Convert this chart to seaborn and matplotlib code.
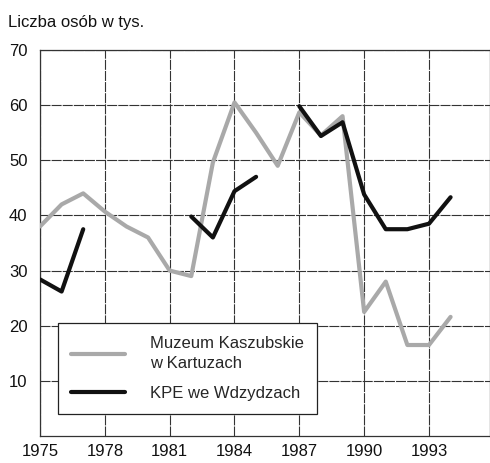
import numpy as np
import pandas as pd
import matplotlib
matplotlib.use("Agg")
import matplotlib.pyplot as plt
import seaborn as sns
from matplotlib.lines import Line2D

sns.set_style("white")
plt.rcParams['font.family'] = ['Liberation Sans', 'DejaVu Sans']

years = list(range(1975, 1995))
muzeum = [38, 42, 44, 40.7, 38, 36, 30, 29, 49.6, 60.5, 55, 49, 58.7, 54.5, 58, 22.5, 28, 16.5, 16.5, 21.6]
kpe = [28.4, 26.2, 37.5, np.nan, np.nan, np.nan, np.nan, 39.8, 36, 44.4, 47, np.nan,
       59.8, 54.4, 56.9, 43.8, 37.5, 37.5, 38.5, 43.3]
label_muzeum = "Muzeum Kaszubskie\nw Kartuzach"
label_kpe = "KPE we Wdzydzach"
title = "Liczba osób w tys."
xticks = [1975, 1978, 1981, 1984, 1987, 1990, 1993]
yticks = [10, 20, 30, 40, 50, 60, 70]

gray = "#a9a9a9"
black = "#111111"

W, H = 490, 463
fig = plt.figure(figsize=(W / 100, H / 100), dpi=100)
ax = fig.add_axes([40 / W, 27 / H, 450 / W, 386 / H])


def segments(xs, ys):
    seg, out = [], []
    for x, y in zip(xs, ys):
        if y is None or (isinstance(y, float) and np.isnan(y)):
            if seg:
                out.append(seg)
            seg = []
        else:
            seg.append((x, y))
    if seg:
        out.append(seg)
    return out


for seg in segments(years, muzeum):
    d = pd.DataFrame(seg, columns=["year", "value"])
    sns.lineplot(data=d, x="year", y="value", ax=ax, color=gray, lw=3, zorder=3)
for seg in segments(years, kpe):
    d = pd.DataFrame(seg, columns=["year", "value"])
    sns.lineplot(data=d, x="year", y="value", ax=ax, color=black, lw=3, zorder=4)

ax.set_xlim(1975, 1975 + 450 / 21.61)
ax.set_ylim(0, 70)
ax.set_xticks(xticks)
ax.set_yticks(yticks)
ax.set_xticklabels([str(t) for t in xticks], fontsize=12)
ax.set_yticklabels([str(t) for t in yticks], fontsize=12)
ax.tick_params(axis="both", length=0, colors="#111111")
ax.tick_params(axis="x", pad=6)
ax.tick_params(axis="y", pad=9)
ax.set_xlabel("")
ax.set_ylabel("")
ax.grid(True, color="#333333", lw=0.8, linestyle=(0, (9, 1)))
for s in ax.spines.values():
    s.set_color("#333333")
    s.set_linewidth(0.9)

fig.text(8 / W, 1 - 22 / H, title, fontsize=12, va="center", ha="left", color="#111111")

handles = [Line2D([], [], color=gray, lw=3), Line2D([], [], color=black, lw=3)]
leg = ax.legend(handles, [label_muzeum, label_kpe],
                bbox_to_anchor=(58 / W, (H - 417) / H, 259 / W, 94 / H),
                bbox_transform=fig.transFigure, loc="upper left", mode="expand",
                borderaxespad=0, fontsize=12, frameon=True, fancybox=False,
                edgecolor="#222222", framealpha=1, handlelength=3.2,
                handletextpad=1.5, borderpad=0.8, labelspacing=0.9)
for t in leg.get_texts():
    t.set_linespacing(1.35)
leg.get_frame().set_linewidth(0.9)
leg.set_zorder(10)

fig.savefig("out.png", dpi=100)
